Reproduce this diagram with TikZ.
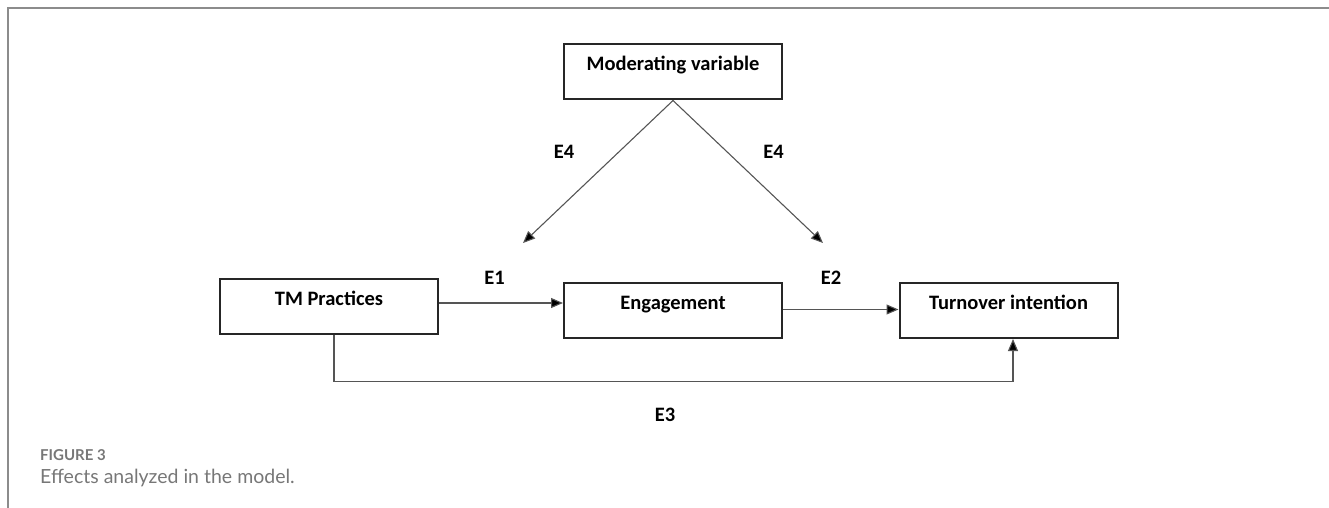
\documentclass[tikz,border=0pt]{standalone}
\usepackage{fontspec}
\setmainfont{Carlito}
\newfontfamily\capfont{Lato}
\usetikzlibrary{arrows.meta}

\definecolor{framegray}{HTML}{8C8C8C}
\definecolor{capgray}{HTML}{777777}
\definecolor{linegray}{HTML}{555555}

\tikzset{
	box/.style={draw=black!85, line width=2pt, minimum width=218pt, minimum height=55pt,
		font=\fontsize{20.5}{24}\selectfont\bfseries, text height=14pt, text depth=16pt},
	effect/.style={font=\fontsize{20.5}{24}\selectfont\bfseries, inner sep=0pt},
	arr/.style={draw=linegray, line width=1.1pt, -{Triangle[length=12pt,width=10pt,fill=black]}},
}

\begin{document}
\begin{tikzpicture}[x=1pt, y=-1pt]

\useasboundingbox (0,0) rectangle (1329,508);

% frame of the figure
\draw[framegray, line width=2pt] (1329,8) -- (8,8) -- (8,508);

% variables
\node[box] (mod) at (673,72) {Moderating variable};
\node[box] (tm) at (329,306) {TM Practices};
\node[box] (eng) at (673,310.5) {Engagement};
\node[box] (turn) at (1008.5,310.5) {Turnover intention};

% moderation ends
\coordinate (m1) at (523,243);
\coordinate (m2) at (823,243);

% effects
\draw[arr] ([yshift=3pt]tm.east) -- ([yshift=3pt]tm.east -| eng.west);
\draw[arr] ([yshift=1pt]eng.east) -- ([yshift=1pt]eng.east -| turn.west);
\draw[arr] ([xshift=5pt]tm.south) -- ++(0,47) -| ([xshift=4.5pt]turn.south);
\draw[arr] (mod.south) -- (m1);
\draw[arr] (mod.south) -- (m2);

\node[effect] (e1) at (494.5,277.5) {E1};
\node[effect] (e2) at (831,277.5) {E2};
\node[effect] (e3) at (665,414.5) {E3};
\node[effect] (e4a) at (564,152) {E4};
\node[effect] (e4b) at (773.5,152) {E4};

% caption
\node[anchor=base west, inner sep=0pt, text=capgray, font=\capfont\fontsize{15}{18}\selectfont\bfseries] (fig) at (40,460) {FIGURE 3};
\node[anchor=base west, inner sep=0pt, text=capgray, font=\capfont\fontsize{19.5}{23}\selectfont] (cap) at (40,483.5) {Effects analyzed in the model.};

\end{tikzpicture}
\end{document}
